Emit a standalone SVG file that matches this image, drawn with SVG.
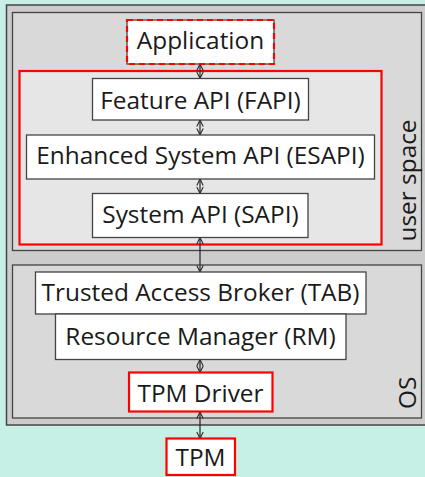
<svg xmlns="http://www.w3.org/2000/svg" width="425" height="477" viewBox="0 0 425 477">
<defs>
<style>
text{font-family:"Open Sans","Noto Sans","DejaVu Sans",sans-serif;font-size:24.4px;fill:#1a1a1a}
.box{fill:#fff;stroke:#444;stroke-width:1.3}
.red{fill:#fff;stroke:#f00;stroke-width:2.2}
.con{stroke:#222;stroke-width:1.2;fill:none;marker-start:url(#ah);marker-end:url(#ah)}
</style>
<marker id="ah" viewBox="0 0 10 10" refX="9" refY="5" markerWidth="8" markerHeight="8" markerUnits="userSpaceOnUse" orient="auto-start-reverse">
<path d="M1,1 L9,5 L1,9" fill="none" stroke="#222" stroke-width="1.3"/>
</marker>
</defs>
<rect x="0" y="0" width="425" height="477" fill="#c6f0e5"/>
<g id="containers">
<rect x="6.5" y="5" width="430" height="420" fill="#cccccc" stroke="#444" stroke-width="1.5"/>
<rect x="12.5" y="12.5" width="409" height="238" fill="#d9d9d9" stroke="#444" stroke-width="1.3"/>
<rect x="12.5" y="265" width="409" height="153" fill="#d9d9d9" stroke="#444" stroke-width="1.3"/>
<rect x="19.5" y="71" width="362" height="173.5" fill="#e6e6e6" stroke="#f00" stroke-width="2.2"/>
<text transform="translate(416,241.5) rotate(-90)">user space</text>
<text transform="translate(416,409) rotate(-90)">OS</text>
</g>
<g id="connectors">
<line class="con" x1="200" y1="64" x2="200" y2="78.5"/>
<line class="con" x1="200" y1="120" x2="200" y2="135"/>
<line class="con" x1="200" y1="179" x2="200" y2="193.5"/>
<line class="con" x1="200" y1="237.5" x2="200" y2="272"/>
<line class="con" x1="200" y1="359.5" x2="200" y2="372.5"/>
<line class="con" x1="200" y1="412" x2="200" y2="438.5"/>
</g>
<g id="application">
<rect x="127" y="20" width="147" height="44" fill="#fff" stroke="#444" stroke-width="1.3"/>
<rect x="127" y="20" width="147" height="44" fill="none" stroke="#f00" stroke-width="2.2" stroke-dasharray="6 4"/>
<text x="200.5" y="48.5" text-anchor="middle">Application</text>
</g>
<g id="fapi">
<rect class="box" x="92.5" y="78.5" width="216" height="41.5"/>
<text x="200.5" y="108.5" text-anchor="middle">Feature API (FAPI)</text>
</g>
<g id="esapi">
<rect class="box" x="26.5" y="135" width="348" height="44"/>
<text x="200.5" y="163.5" text-anchor="middle">Enhanced System API (ESAPI)</text>
</g>
<g id="sapi">
<rect class="box" x="92.5" y="193.5" width="215.5" height="44"/>
<text x="200.5" y="222.5" text-anchor="middle">System API (SAPI)</text>
</g>
<g id="tab">
<rect class="box" x="35.5" y="272" width="330.5" height="42"/>
<text x="200.5" y="300.5" text-anchor="middle">Trusted Access Broker (TAB)</text>
</g>
<g id="rm">
<rect class="box" x="55.5" y="314" width="290.5" height="45.5"/>
<text x="200.5" y="344.5" text-anchor="middle">Resource Manager (RM)</text>
</g>
<g id="driver">
<rect class="red" x="129" y="372.5" width="143.5" height="39"/>
<text x="200.5" y="401.5" text-anchor="middle">TPM Driver</text>
</g>
<g id="tpm">
<rect class="red" x="166.5" y="438.5" width="68.5" height="36.5"/>
<text x="200.5" y="466" text-anchor="middle">TPM</text>
</g>
</svg>
